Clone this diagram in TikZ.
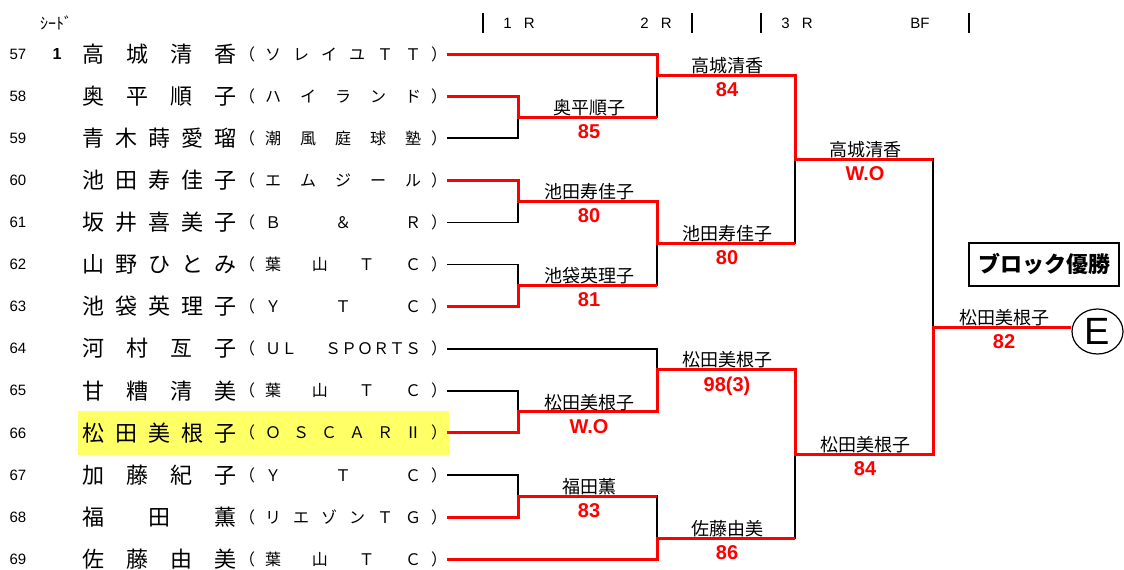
\documentclass[tikz,border=0pt]{standalone}
\usepackage{fontspec}
\setmainfont{Liberation Sans}
\newfontfamily\jp{Noto Sans CJK JP}
\usetikzlibrary{shapes.geometric}

\definecolor{hilite}{HTML}{FFFF66}

% spread letters over a fixed width
\newcommand{\spreadname}[1]{\makebox[154pt][s]{#1}}
\newcommand{\spreadclub}[1]{（\hspace{10pt}\makebox[156pt][s]{#1}\hspace{10pt}）}

\tikzset{
  win/.style={draw=red, line width=3pt},
  lose/.style={draw=black, line width=1.7pt},
  rownum/.style={inner sep=0pt, font=\fontsize{15}{15}\selectfont},
  player/.style={anchor=west, inner sep=0pt, text height=18pt, text depth=1.5pt, font=\jp\fontsize{22}{22}\selectfont},
  club/.style={anchor=west, inner sep=0pt, text height=13.1pt, text depth=1.1pt, font=\jp\fontsize{16}{16}\selectfont},
  winner/.style={anchor=south, inner sep=0pt, text depth=0pt, yshift=2.7pt, font=\jp\fontsize{18}{18}\selectfont},
  score/.style={anchor=north, inner sep=0pt, yshift=-7pt, text=red, font=\bfseries\fontsize{20}{20}\selectfont},
  head/.style={inner sep=0pt, font=\fontsize{15}{15}\selectfont},
}

\begin{document}
\begin{tikzpicture}[x=1pt, y=-1pt]
    \useasboundingbox (0,0) rectangle (1124,570);

    % header
    \node[head, font=\jp\fontsize{16}{16}\selectfont] (seedhead) at (56,23) {ｼｰﾄﾞ};
    \draw[lose] (483,13) -- (483,33);
    \draw[lose] (692,13) -- (692,33);
    \draw[lose] (761,13) -- (761,33);
    \draw[lose] (969,13) -- (969,33);
    \node[head] (r1) at (519,23.5) {1\hspace{12pt}R};
    \node[head] (r2) at (656,23.5) {2\hspace{12pt}R};
    \node[head] (r3) at (797,23.5) {3\hspace{12pt}R};
    \node[head] (bf) at (920,23.5) {BF};

    % highlighted player
    \fill[hilite] (78,411) rectangle (449,455);

    % players
    \node[rownum] (n57) at (18,54) {57};
    \node[rownum, font=\bfseries\fontsize{16}{16}\selectfont] (seed57) at (57,54) {1};
    \node[player] (p57) at (82,54) {\spreadname{高\hfill 城\hfill 清\hfill 香}};
    \node[club] (c57) at (239,54) {\spreadclub{ソ\hfill レ\hfill イ\hfill ユ\hfill Ｔ\hfill Ｔ}};

    \node[rownum] (n58) at (18,96.1) {58};
    \node[player] (p58) at (82,96.1) {\spreadname{奥\hfill 平\hfill 順\hfill 子}};
    \node[club] (c58) at (239,96.1) {\spreadclub{ハ\hfill イ\hfill ラ\hfill ン\hfill ド}};

    \node[rownum] (n59) at (18,138.2) {59};
    \node[player] (p59) at (82,138.2) {\spreadname{青\hfill 木\hfill 蒔\hfill 愛\hfill 瑠}};
    \node[club] (c59) at (239,138.2) {\spreadclub{潮\hfill 風\hfill 庭\hfill 球\hfill 塾}};

    \node[rownum] (n60) at (18,180.3) {60};
    \node[player] (p60) at (82,180.3) {\spreadname{池\hfill 田\hfill 寿\hfill 佳\hfill 子}};
    \node[club] (c60) at (239,180.3) {\spreadclub{エ\hfill ム\hfill ジ\hfill ー\hfill ル}};

    \node[rownum] (n61) at (18,222.4) {61};
    \node[player] (p61) at (82,222.4) {\spreadname{坂\hfill 井\hfill 喜\hfill 美\hfill 子}};
    \node[club] (c61) at (239,222.4) {\spreadclub{Ｂ\hfill ＆\hfill Ｒ}};

    \node[rownum] (n62) at (18,264.5) {62};
    \node[player] (p62) at (82,264.5) {\spreadname{山\hfill 野\hfill ひ\hfill と\hfill み}};
    \node[club] (c62) at (239,264.5) {\spreadclub{葉\hfill 山\hfill Ｔ\hfill Ｃ}};

    \node[rownum] (n63) at (18,306.6) {63};
    \node[player] (p63) at (82,306.6) {\spreadname{池\hfill 袋\hfill 英\hfill 理\hfill 子}};
    \node[club] (c63) at (239,306.6) {\spreadclub{Ｙ\hfill Ｔ\hfill Ｃ}};

    \node[rownum] (n64) at (18,348.7) {64};
    \node[player] (p64) at (82,348.7) {\spreadname{河\hfill 村\hfill 亙\hfill 子}};
    \node[club] (c64) at (239,348.7) {\spreadclub{ＵＬ\hfill ＳＰＯＲＴＳ}};

    \node[rownum] (n65) at (18,390.8) {65};
    \node[player] (p65) at (82,390.8) {\spreadname{甘\hfill 糟\hfill 清\hfill 美}};
    \node[club] (c65) at (239,390.8) {\spreadclub{葉\hfill 山\hfill Ｔ\hfill Ｃ}};

    \node[rownum] (n66) at (18,432.9) {66};
    \node[player] (p66) at (82,432.9) {\spreadname{松\hfill 田\hfill 美\hfill 根\hfill 子}};
    \node[club] (c66) at (239,432.9) {\spreadclub{Ｏ\hfill Ｓ\hfill Ｃ\hfill Ａ\hfill Ｒ\hfill Ⅱ}};

    \node[rownum] (n67) at (18,475) {67};
    \node[player] (p67) at (82,475) {\spreadname{加\hfill 藤\hfill 紀\hfill 子}};
    \node[club] (c67) at (239,475) {\spreadclub{Ｙ\hfill Ｔ\hfill Ｃ}};

    \node[rownum] (n68) at (18,517.1) {68};
    \node[player] (p68) at (82,517.1) {\spreadname{福\hfill 田\hfill 薫}};
    \node[club] (c68) at (239,517.1) {\spreadclub{リ\hfill エ\hfill ゾ\hfill ン\hfill Ｔ\hfill Ｇ}};

    \node[rownum] (n69) at (18,559.2) {69};
    \node[player] (p69) at (82,559.2) {\spreadname{佐\hfill 藤\hfill 由\hfill 美}};
    \node[club] (c69) at (239,559.2) {\spreadclub{葉\hfill 山\hfill Ｔ\hfill Ｃ}};

    % match points
    \coordinate (m1) at (518,117.2);
    \coordinate (m2) at (518,201.4);
    \coordinate (m3) at (518,285.6);
    \coordinate (m4) at (518,411.9);
    \coordinate (m5) at (518,496.1);
    \coordinate (m6) at (657,75);
    \coordinate (m7) at (657,243.5);
    \coordinate (m8) at (657,369.8);
    \coordinate (m9) at (657,538.2);
    \coordinate (m10) at (795,159.3);
    \coordinate (m11) at (795,454);
    \coordinate (m12) at (933,327.7);

    % block winner
    \node[draw, line width=1.8pt, minimum width=150pt, minimum height=43pt, inner sep=0pt,
          font=\jp\bfseries\fontsize{22}{22}\selectfont] (block) at (1044,264.5) {ブロック優勝};
    \node[draw, ellipse, line width=1.2pt, minimum width=51pt, minimum height=45pt, inner sep=0pt,
          font=\fontsize{38}{38}\selectfont] (champ) at (1097.5,331.5) {E};

    % lost matches
    \draw[lose] (c59.east) -| (m1);
    \draw[lose] (c61.east) -| (m2);
    \draw[lose] (c62.east) -| (m3);
    \draw[lose] (c65.east) -| (m4);
    \draw[lose] (c67.east) -| (m5);
    \draw[lose] (m1) -| (m6);
    \draw[lose] (m3) -| (m7);
    \draw[lose] (c64.east) -| (m8);
    \draw[lose] (m5) -| (m9);
    \draw[lose] (m7) -| (m10);
    \draw[lose] (m9) -| (m11);
    \draw[lose] (m10) -| (m12);

    % won matches
    \draw[win] (c57.east) -| (m6) -| (m10) -- (m10 -| m12);
    \draw[win] (c58.east) -| (m1) -- (m1 -| m6);
    \draw[win] (c60.east) -| (m2) -| (m7) -- (m7 -| m10);
    \draw[win] (c63.east) -| (m3) -- (m3 -| m7);
    \draw[win] (c66.east) -| (m4) -| (m8) -| (m11) -| (m12) -- (m12 -| champ.west);
    \draw[win] (c68.east) -| (m5) -- (m5 -| m9);
    \draw[win] (c69.east) -| (m9) -- (m9 -| m11);

    % winners and scores
    \node[winner] (w1) at (589,117.2) {奥平順子};
    \node[score] (s1) at (589,117.2) {85};
    \node[winner] (w2) at (589,201.4) {池田寿佳子};
    \node[score] (s2) at (589,201.4) {80};
    \node[winner] (w3) at (589,285.6) {池袋英理子};
    \node[score] (s3) at (589,285.6) {81};
    \node[winner] (w4) at (589,411.9) {松田美根子};
    \node[score] (s4) at (589,411.9) {W.O};
    \node[winner] (w5) at (589,496.1) {福田薫};
    \node[score] (s5) at (589,496.1) {83};
    \node[winner] (w6) at (727,75) {高城清香};
    \node[score] (s6) at (727,75) {84};
    \node[winner] (w7) at (727,243.5) {池田寿佳子};
    \node[score] (s7) at (727,243.5) {80};
    \node[winner] (w8) at (727,369.8) {松田美根子};
    \node[score] (s8) at (727,369.8) {98(3)};
    \node[winner] (w9) at (727,538.2) {佐藤由美};
    \node[score] (s9) at (727,538.2) {86};
    \node[winner] (w10) at (865,159.3) {高城清香};
    \node[score] (s10) at (865,159.3) {W.O};
    \node[winner] (w11) at (865,454) {松田美根子};
    \node[score] (s11) at (865,454) {84};
    \node[winner] (w12) at (1004,327.7) {松田美根子};
    \node[score] (s12) at (1004,327.7) {82};
\end{tikzpicture}
\end{document}
